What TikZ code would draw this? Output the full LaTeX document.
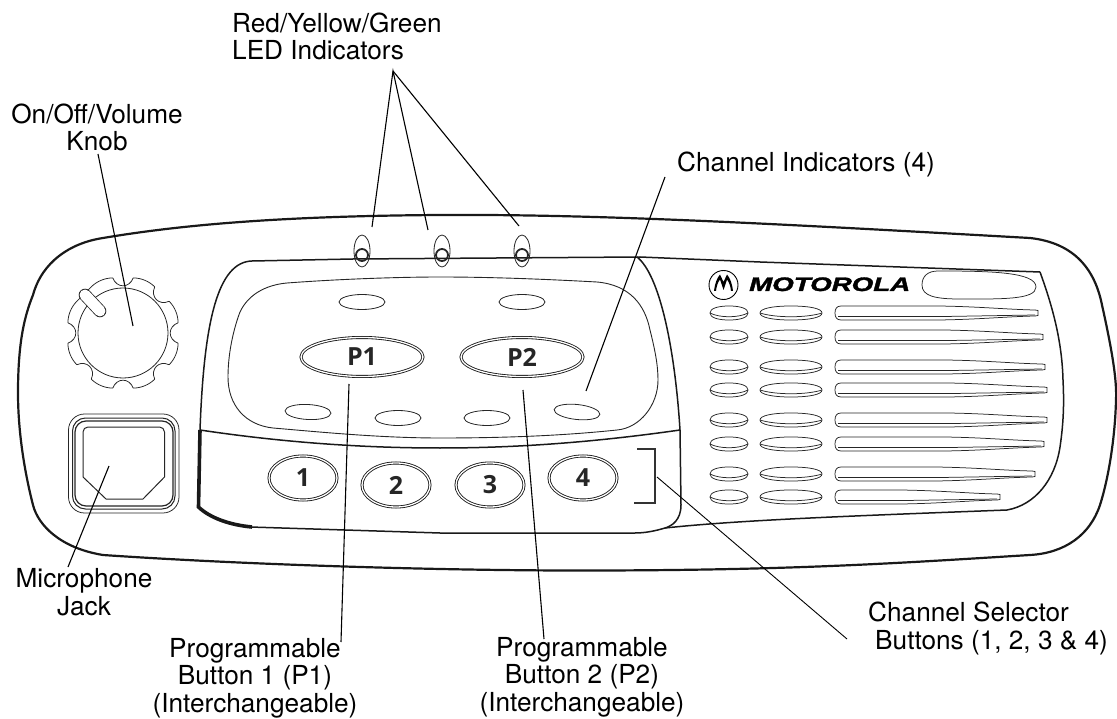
\documentclass[tikz,border=0pt]{standalone}
\usepackage{fontspec}
\usetikzlibrary{shapes.geometric}
\setmainfont{TeX Gyre Heros}
\newfontfamily\keyfont{Open Sans}
\newfontfamily\logofont[BoldItalicFeatures={FakeBold=1.6}]{Liberation Sans}
\tikzset{
  outline/.style={line width=2.2pt,black!90},
  panel/.style={line width=1.5pt,black!90},
  thin line/.style={line width=0.75pt,black!85},
  leader/.style={line width=1.1pt,black},
  lbl/.style={inner sep=0pt,font=\fontsize{26.2}{27.5}\selectfont,align=center},
  lblleft/.style={lbl,align=left},
  keycap/.style={ellipse,draw=black!90,line width=0.85pt,double,double distance=1.3pt,inner sep=0pt,text=black!85,font=\keyfont\bfseries\fontsize{25}{25}\selectfont},
  led/.style={ellipse,draw=black!85,line width=0.8pt,minimum width=16pt,minimum height=32pt,inner sep=0pt},
  ledring/.style={circle,draw=black!85,line width=1.8pt,minimum size=12pt,inner sep=0pt},
  slot/.style={ellipse,draw=black!85,line width=0.8pt,minimum width=46pt,minimum height=15pt,inner sep=0pt},
}
\newcommand{\gpill}[3]{%
  \draw[thin line] (#1-#2,#3) .. controls (#1-#2,#3-4.5) and (#1-#2*0.6,#3-7) .. (#1,#3-7)
     .. controls (#1+#2*0.6,#3-7) and (#1+#2,#3-4.5) .. (#1+#2,#3)
     .. controls (#1+#2,#3+4.5) and (#1+#2*0.6,#3+7) .. (#1,#3+7)
     .. controls (#1-#2*0.6,#3+7) and (#1-#2,#3+4.5) .. (#1-#2,#3) -- cycle;
  \draw[thin line] (#1-#2,#3) .. controls (#1-#2*0.5,#3+5) and (#1+#2*0.5,#3+5) .. (#1+#2,#3);
}
\newcommand{\gbar}[2]{%
  \draw[thin line] (835,#2) .. controls (835,#2-4) and (836.5,#2-7) .. (841,#2-7) -- (#1-100,#2-7) .. controls (#1-60,#2-6.5) and (#1-30,#2-3.5) .. (#1-3,#2-3)
    -- (#1,#2-2.5) -- (#1,#2+2.5) -- (#1-3,#2+3)
    .. controls (#1-30,#2+3.5) and (#1-60,#2+6.5) .. (#1-100,#2+7) -- (841,#2+7) .. controls (836.5,#2+7) and (835,#2+4) .. (835,#2) -- cycle;
  \draw[thin line] (838,#2+3.6) -- (#1-100,#2+3.6) -- (#1-3,#2+2);
}
\begin{document}
\begin{tikzpicture}[x=1pt,y=-1pt]
\useasboundingbox (0,0) rectangle (1117,719);
% housing
\draw[outline] (103,238) .. controls (180,225) and (280,216) .. (440,215) .. controls (600,214) and (780,224) .. (1030,238) .. controls (1075,243) and (1095,270) .. (1102,305) .. controls (1112,350) and (1117,380) .. (1116,400) .. controls (1115,440) and (1108,480) .. (1100,505) .. controls (1090,535) and (1065,553) .. (1030,555) .. controls (900,563) and (800,570) .. (600,570.5) .. controls (450,571) and (250,565) .. (103,555) .. controls (60,548) and (38,525) .. (33,505) .. controls (24,470) and (18,430) .. (18,393) .. controls (18,340) and (25,315) .. (33,295) .. controls (42,262) and (70,243) .. (103,238) -- cycle;
% left panel outline
\draw[panel] (252,261) .. controls (218,262) and (204,320) .. (200,430);
\draw[panel] (252,261) -- (353,259) -- (640,257) -- (760,262) -- (1040,272);
\draw[panel] (637,257) .. controls (660,275) and (675,350) .. (680,430) -- (681,505);
\draw[panel] (681,505) .. controls (681,520) and (672,526) .. (665,528) .. controls (655,531) and (645,533) .. (635,533) -- (440,533) -- (250,527);
\draw[line width=3.6pt,black!90] (200,430) -- (198.5,507) .. controls (210,518) and (230,525) .. (252,527);
\draw[panel] (200,430) .. controls (280,442) and (360,448) .. (440,448) .. controls (530,448) and (610,440) .. (680,430);
% right panel
\draw[panel] (665,528) .. controls (740,520) and (850,516) .. (1007,510) .. controls (1035,505) and (1055,480) .. (1060,447) .. controls (1064,420) and (1064,400) .. (1063,380) .. controls (1062,340) and (1052,305) .. (1040,272);
% display outline
\draw[thin line,line width=0.9pt] (287,283) .. controls (340,279) and (400,277) .. (440,277) .. controls (500,277) and (560,280) .. (597,282) .. controls (630,285) and (645,305) .. (650,330) .. controls (655,350) and (658,365) .. (658,380) .. controls (658,405) and (640,428) .. (617,430) .. controls (560,436) and (500,438) .. (440,438) .. controls (380,438) and (320,432) .. (273,428) .. controls (245,425) and (228,405) .. (228,377) .. controls (228,350) and (235,325) .. (240,312) .. controls (248,295) and (265,285) .. (287,283) -- cycle;
% knob
\node[circle,draw=black!85,line width=0.8pt,minimum size=90pt,inner sep=0pt] (knob) at (123,333) {};
\begin{scope}[shift={(123,333)},thin line]
  \foreach \a in {0,45,90,135,180,270,315}{
    \draw (\a-10.5:56) .. controls (\a-8:45) and (\a+8:45) .. (\a+10.5:56);
  }
  \draw (225-10.5:56) -- (225+10.5:56);
  \foreach \a in {0,45,90,135,180,225,270,315}{
    \draw (\a+10.5:56) .. controls (\a+18:58) and (\a+27:58) .. (\a+34.5:56);
  }
\end{scope}
\coordinate (ptrA) at (85,295);
\coordinate (ptrB) at (100,311);
\draw[line width=0.8pt,double,double distance=11pt,line cap=round,draw=black!85] (ptrA) -- (ptrB);
% microphone jack
\draw[thin line] (68.5,430) arc[start angle=180,end angle=270,radius=16] -- (163,414) arc[start angle=270,end angle=360,radius=16] -- (179,497) arc[start angle=0,end angle=90,radius=16] -- (84.5,513) arc[start angle=90,end angle=180,radius=16] -- cycle;
\draw[thin line,line width=1pt,rounded corners=13pt] (72.5,418) rectangle (175,509);
\draw[thin line,line width=1.2pt,rounded corners=11pt] (75,421) rectangle (173,506);
\draw[thin line,line width=1pt,rounded corners=5pt] (83,477) -- (83,427) -- (164.5,427) -- (164.5,477);
\draw[thin line,line width=1pt] (164.5,477) -- (143,499) -- (106,499) -- (83,477);
% LEDs
\foreach \n/\x in {a/362,b/442,c/522}{
  \node[led] (led\n) at (\x,251) {};
  \node[ledring] (ring\n) at (\x,255) {};
}
% slots
\node[slot] (s1) at (362,302) {};
\node[slot] (s2) at (522,302) {};
\node[slot,rotate=-3] (s3) at (308,412) {};
\node[slot] (s4) at (398,418) {};
\node[slot] (s5) at (487,418) {};
\node[slot,rotate=-6] (s6) at (577,412) {};
% keycaps
\node[keycap,minimum width=122pt,minimum height=39pt] (p1) at (362,357) {P1};
\node[keycap,minimum width=122pt,minimum height=39pt] (p2) at (522,357) {P2};
\node[keycap,minimum width=68pt,minimum height=44pt] (k1) at (303,478) {1};
\node[keycap,minimum width=68pt,minimum height=44pt] (k2) at (396,485) {2};
\node[keycap,minimum width=68pt,minimum height=44pt] (k3) at (490,485) {3};
\node[keycap,minimum width=68pt,minimum height=44pt] (k4) at (583,478) {4};
% bracket
\draw[line width=1.1pt,black!80] (637,449) -- (655,449) -- (655,503) -- (634,503);
% logo
\node[circle,draw=black,line width=0.9pt,minimum size=29pt,inner sep=0pt] (logo) at (723.5,285) {};
\fill[black,shift={(723.5,285)}] (-9.5,6) .. controls (-8.5,-2) and (-6.5,-7) .. (-3.5,-10.5) -- (0,-3) -- (3.5,-10.5) .. controls (6.5,-7) and (8.5,-2) .. (9.5,6) -- (7.5,6) .. controls (7,1) and (5.5,-3) .. (3.5,-5.5) -- (0,5) -- (-3.5,-5.5) .. controls (-5.5,-3) and (-7,1) .. (-7.5,6) -- cycle;
\node[inner sep=0pt,anchor=base west] (brand) at (749,291) {\scalebox{1.42}[1]{\logofont\bfseries\itshape\fontsize{19.5}{20}\selectfont MOTOROLA}};
% name plate
\draw[thin line] (938,271) .. controls (990,271) and (1036,272) .. (1036,287) .. controls (1036,300) and (1000,299) .. (960,299) .. controls (935,299) and (922,296) .. (922,285) .. controls (922,276) and (928,271) .. (938,271) -- cycle;
% grille
\foreach \y/\r in {313/1038,337/1043,367/1045,390/1047,420/1047,444/1044,474/1035,497/1000}{
  \gpill{729}{19}{\y}
  \gpill{791}{31}{\y}
  \gbar{\r}{\y}
}
% labels
\node[lblleft,anchor=base west] (tled) at (232,60) {Red/Yellow/Green\\LED Indicators};
\node[lbl,anchor=base] (tknob) at (97,151) {On/Off/Volume\\Knob};
\node[lbl,anchor=base] (tmic) at (84,615) {Microphone\\Jack};
\node[lbl,anchor=base west] (tchan) at (677,172) {Channel Indicators (4)};
\node[lbl,anchor=base] (tp1) at (255,712) {Programmable\\Button 1 (P1)\\(Interchangeable)};
\node[lbl,anchor=base] (tp2) at (582,711) {Programmable\\Button 2 (P2)\\(Interchangeable)};
\node[lblleft,anchor=base west] (tsel) at (868,649) {Channel Selector\\\hspace*{7pt}Buttons (1, 2, 3 \& 4)};
% leaders
\coordinate (apex) at (393,71);
\coordinate (la) at (372,227);
\coordinate (lb) at (428,230);
\coordinate (lc) at (519,226);
\draw[leader] (la) -- (apex) -- (lb);
\draw[leader] (apex) -- (lc);
\coordinate (kt) at (98,154);
\coordinate (kb) at (133,326);
\draw[leader] (kt) -- (kb);
\coordinate (ct) at (665,177);
\coordinate (cb) at (586,391);
\draw[leader] (ct) -- (cb);
\coordinate (p1t) at (349,384);
\coordinate (p1b) at (341,642);
\draw[leader] (p1t) -- (p1b);
\coordinate (p2t) at (523,390);
\coordinate (p2b) at (544,639);
\draw[leader] (p2t) -- (p2b);
\coordinate (mt) at (109,466);
\coordinate (mb) at (68,567);
\draw[leader] (mt) -- (mb);
\coordinate (st) at (657,477);
\coordinate (sb) at (847,639);
\draw[leader,line width=0.9pt] (st) -- (sb);
\end{tikzpicture}
\end{document}
